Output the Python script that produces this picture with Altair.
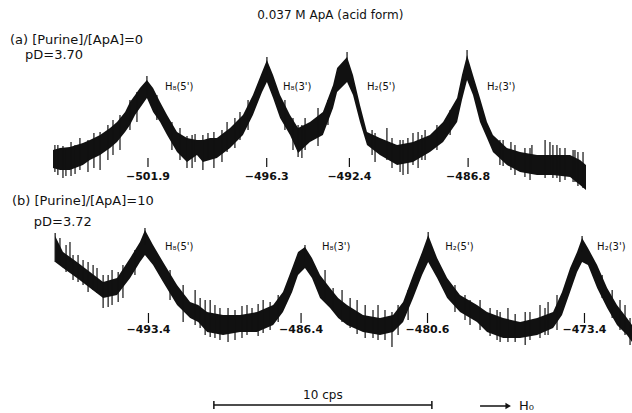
import altair as alt
import pandas as pd

# ---------------- spectrum (a): [Purine]/[ApA] = 0 ----------------
A_freq = [-506.38, -506.05, -505.58, -504.97, -504.64, -504.16, -503.69, -503.36, -502.98, -502.75,
          -502.51, -502.28, -501.95, -501.66, -501.33, -501.00, -500.53, -500.06, -499.59, -499.31,
          -498.98, -498.65, -498.03, -497.42, -496.95, -496.52, -496.29, -496.00, -495.67, -495.20,
          -494.82, -494.26, -493.65, -493.17, -492.98, -492.51, -492.23, -491.90, -491.57, -490.96,
          -490.15, -489.40, -488.60, -487.98, -487.32, -487.09, -486.85, -486.57, -486.24, -485.91,
          -485.63, -484.97, -484.35, -483.55, -482.80, -481.99, -481.52, -481.24]
A_upper = [40, 42, 43, 47, 50, 55, 62, 68, 78, 88,
           95, 102, 110, 102, 88, 75, 58, 52, 50, 50,
           52, 52, 62, 75, 95, 118, 130, 115, 95, 75,
           62, 68, 78, 105, 122, 133, 115, 85, 58, 52,
           45, 48, 55, 68, 92, 115, 135, 115, 92, 68,
           55, 42, 38, 35, 35, 35, 30, 25]
A_lower = [22, 20, 20, 25, 30, 35, 42, 48, 58, 65,
           75, 82, 92, 78, 68, 55, 38, 28, 35, 28,
           30, 32, 42, 55, 75, 98, 108, 92, 72, 55,
           37, 48, 55, 82, 98, 108, 95, 68, 45, 35,
           25, 28, 38, 48, 68, 90, 110, 95, 68, 52,
           38, 25, 18, 15, 15, 13, 5, 0]
A_spike_freq = [-506.15, -505.77, -505.34, -504.73, -504.16, -503.79, -502.75, -501.48, -500.39, -500.06,
                -499.68, -499.31, -498.41, -497.56, -494.82, -494.49, -493.88, -491.33, -490.63, -490.01,
                -489.64, -489.40, -488.83, -485.30, -484.59, -483.88, -483.17, -482.80, -482.47, -481.76,
                -481.38, -501.95, -496.29, -492.51, -486.85,
                -506.29, -505.91, -505.53, -505.11, -504.45, -503.55, -503.22, -502.42, -500.77, -499.82,
                -499.07, -498.79, -498.17, -497.80, -497.18, -495.44, -495.06, -494.64, -493.41, -491.19,
                -490.39, -489.87, -489.16, -488.98, -488.27, -487.65, -485.15, -484.78, -484.12, -483.79,
                -482.94, -482.61, -482.23, -481.85, -481.62]
A_spike_top = [45, 40, 45, 50, 58, 65, 90, 95, 62, 54,
               56, 55, 60, 78, 65, 72, 82, 60, 62, 50,
               52, 57, 60, 50, 45, 42, 50, 45, 42, 40,
               38, 114, 133, 138, 140,
               45, 44, 48, 52, 57, 70, 75, 98, 68, 55,
               57, 58, 68, 72, 90, 90, 72, 65, 90, 57,
               52, 50, 58, 55, 65, 80, 50, 48, 42, 45,
               48, 45, 42, 40, 38]
A_spike_bot = [15, 14, 16, 18, 20, 30, 60, 70, 30, 22,
               28, 20, 28, 50, 33, 40, 44, 35, 30, 18,
               16, 25, 30, 25, 15, 10, 12, 12, 8, 8,
               2, 95, 115, 120, 120,
               18, 12, 14, 20, 22, 35, 40, 68, 40, 22,
               30, 22, 38, 42, 60, 60, 40, 32, 65, 28,
               22, 15, 22, 30, 40, 55, 24, 20, 13, 18,
               15, 12, 10, 8, 4]
A_peaks = [-501.9, -496.3, -492.4, -486.8]
A_names = ["H\u2088(5')", "H\u2088(3')", "H\u2082(5')", "H\u2082(3')"]
A_name_freq = [-501.10, -495.53, -491.57, -485.91]

# ---------------- spectrum (b): [Purine]/[ApA] = 10 ----------------
B_freq = [-497.68, -497.32, -496.68, -496.08, -495.48, -494.84, -494.24, -493.79, -493.56, -493.19,
          -492.73, -492.09, -491.49, -491.12, -490.71, -489.98, -489.20, -488.42, -487.68, -487.23,
          -486.81, -486.54, -486.22, -485.90, -485.53, -485.07, -484.70, -484.29, -483.56, -482.78,
          -482.18, -481.72, -481.26, -480.85, -480.57, -480.16, -479.70, -479.11, -478.33, -477.87,
          -477.13, -476.35, -475.57, -474.84, -474.43, -474.06, -473.74, -473.51, -473.24, -472.82,
          -472.36, -471.91, -471.45, -471.22]
B_upper = [177, 161, 151, 141, 131, 135, 155, 171, 183, 168,
           151, 128, 111, 108, 101, 98, 98, 101, 108, 121,
           145, 161, 166, 155, 138, 125, 115, 108, 98, 95,
           98, 111, 138, 161, 178, 155, 135, 118, 108, 101,
           95, 91, 95, 101, 121, 145, 161, 175, 165, 148,
           125, 108, 95, 88]
B_lower = [151, 145, 135, 125, 115, 118, 135, 151, 158, 148,
           131, 108, 95, 91, 81, 78, 81, 81, 88, 101,
           121, 138, 145, 135, 115, 105, 95, 88, 81, 78,
           81, 91, 115, 138, 151, 135, 115, 101, 91, 81,
           75, 75, 78, 85, 98, 121, 141, 151, 148, 125,
           105, 88, 78, 71]
B_spike_freq = [-497.68, -497.00, -496.86, -496.40, -495.76, -495.48, -495.25, -494.79, -491.81, -491.26,
                -490.57, -490.12, -489.43, -488.88, -488.65, -487.82, -484.93, -484.15, -483.10, -482.55,
                -482.23, -478.65, -477.73, -477.27, -476.58, -475.90, -475.21, -471.77, -471.31,
                -493.56, -486.22, -480.57, -473.51,
                -497.46, -497.18, -496.63, -496.17, -495.94, -495.07, -494.57, -494.02, -492.41, -491.03,
                -490.80, -490.35, -489.75, -489.11, -488.37, -488.14, -487.45, -485.30, -484.52, -483.83,
                -483.46, -482.87, -481.95, -481.49, -479.34, -478.88, -478.19, -477.41, -476.91, -476.12,
                -475.44, -475.07, -474.66, -472.59, -472.13, -471.54]
B_spike_top = [180, 171, 158, 153, 145, 138, 138, 141, 128, 123,
               113, 105, 103, 108, 105, 111, 125, 115, 103, 103,
               101, 113, 105, 101, 99, 101, 105, 113, 95,
               185, 168, 181, 177,
               175, 168, 158, 151, 148, 143, 148, 163, 143, 115,
               113, 108, 105, 107, 109, 113, 118, 143, 123, 113,
               108, 108, 108, 123, 128, 118, 113, 103, 105, 101,
               108, 111, 118, 138, 123, 108]
B_spike_bot = [151, 151, 133, 128, 120, 105, 106, 111, 91, 88,
               76, 73, 73, 78, 81, 83, 103, 85, 75, 73,
               66, 88, 77, 71, 71, 73, 78, 83, 68,
               168, 151, 163, 161,
               148, 141, 131, 121, 123, 108, 115, 138, 113, 85,
               78, 75, 71, 75, 77, 80, 91, 113, 91, 79,
               75, 73, 78, 93, 101, 93, 83, 73, 71, 68,
               75, 78, 83, 115, 95, 78]
B_peaks = [-493.4, -486.4, -480.6, -473.4]
B_names = ["H\u2088(5')", "H\u2088(3')", "H\u2082(5')", "H\u2082(3')"]
B_name_freq = [-492.64, -485.44, -479.79, -472.82]

TITLE = "0.037 M ApA (acid form)"
A_caption = ["(a) [Purine]/[ApA]=0", "pD=3.70"]
B_caption = ["(b) [Purine]/[ApA]=10", "pD=3.72"]
SCALE_BAR = [-490.4, -480.4]   # 10 cps
SCALE_TEXT = "10 cps"

FONT = "DejaVu Sans"
INK = "#111111"


def fmt(v):
    return "\u2212" + f"{abs(v):.1f}"


def panel(freq, upper, lower, sp_f, sp_t, sp_b, peaks, names, name_f,
          xdom, ydom, h, tick_lo, tick_hi, tick_lab_y, name_y, extra_text, extras=None):
    xs = alt.Scale(domain=xdom, nice=False, zero=False)
    ys = alt.Scale(domain=ydom, nice=False, zero=False)

    def X(f):
        return alt.X(f, type="quantitative", scale=xs, axis=None)

    def Y(f):
        return alt.Y(f, type="quantitative", scale=ys, axis=None)

    trace = pd.DataFrame({"f": freq, "hi": upper, "lo": lower})
    spikes = pd.DataFrame({"f": sp_f, "t": sp_t, "b": sp_b})
    pk = pd.DataFrame({"f": peaks, "lab": [fmt(p) for p in peaks]})
    nm = pd.DataFrame({"f": name_f, "name": names})

    band = alt.Chart(trace).mark_area(color=INK, opacity=1).encode(
        x=X("f"), y=Y("lo"), y2="hi")
    sp = alt.Chart(spikes).mark_rule(color=INK, strokeWidth=1.2).encode(
        x=X("f"), y=Y("t"), y2="b")
    ticks = alt.Chart(pk).mark_rule(color=INK, strokeWidth=1.2).encode(
        x=X("f"), y=alt.Y(datum=tick_lo, scale=ys, axis=None), y2=alt.Y2(datum=tick_hi))
    tlab = alt.Chart(pk).mark_text(font=FONT, fontSize=11, fontWeight="bold", color=INK,
                                   baseline="middle", align="center").encode(
        x=X("f"), y=alt.Y(datum=tick_lab_y, scale=ys, axis=None), text="lab:N")
    nlab = alt.Chart(nm).mark_text(font=FONT, fontSize=10, color=INK,
                                   baseline="middle", align="left").encode(
        x=X("f"), y=alt.Y(datum=name_y, scale=ys, axis=None), text="name:N")
    ex = pd.DataFrame(extra_text)
    cap = alt.Chart(ex).mark_text(font=FONT, fontSize=13, color=INK, align="left",
                                  baseline="middle").encode(x=X("f"), y=Y("y"), text="t:N")
    layers = [band, sp, ticks, tlab, nlab, cap]
    if extras:
        layers.extend(extras(X, Y, xs, ys))
    return alt.layer(*layers).properties(width=632, height=h)


A_texts = [
    {"f": -508.41, "y": 150, "t": A_caption[0]},
    {"f": -507.70, "y": 135, "t": A_caption[1]},
]


def a_extras(X, Y, xs, ys):
    t = pd.DataFrame({"f": [-493.3], "y": [175], "t": [TITLE]})
    return [alt.Chart(t).mark_text(font=FONT, fontSize=12, color=INK, align="center",
                                   baseline="middle").encode(x=X("f"), y=Y("y"), text="t:N")]


A = panel(A_freq, A_upper, A_lower, A_spike_freq, A_spike_top, A_spike_bot,
          A_peaks, A_names, A_name_freq, [-508.88, -479.07], [0, 190], 190,
          23, 32, 13, 103, A_texts, a_extras)

B_texts = [
    {"f": -499.66, "y": 212, "t": B_caption[0]},
    {"f": -498.66, "y": 191, "t": B_caption[1]},
]


def b_extras(X, Y, xs, ys):
    bar = pd.DataFrame({"f": [SCALE_BAR[0]], "f2": [SCALE_BAR[1]], "y": [8]})
    caps = pd.DataFrame({"f": SCALE_BAR})
    lab = pd.DataFrame({"f": [(SCALE_BAR[0] + SCALE_BAR[1]) / 2], "y": [18], "t": [SCALE_TEXT]})
    arrow = pd.DataFrame({"f": [-478.19], "f2": [-477.0], "y": [7]})
    head = pd.DataFrame({"f": [-476.9], "y": [7]})
    h0 = pd.DataFrame({"f": [-476.4], "y": [7], "t": ["H\u2080"]})
    return [
        alt.Chart(bar).mark_rule(color=INK, strokeWidth=1.5).encode(
            x=X("f"), x2="f2", y=Y("y")),
        alt.Chart(caps).mark_rule(color=INK, strokeWidth=1.5).encode(
            x=X("f"), y=alt.Y(datum=4, scale=ys, axis=None), y2=alt.Y2(datum=12)),
        alt.Chart(lab).mark_text(font=FONT, fontSize=12, color=INK, align="center",
                                 baseline="middle").encode(x=X("f"), y=Y("y"), text="t:N"),
        alt.Chart(arrow).mark_rule(color=INK, strokeWidth=1.5).encode(
            x=X("f"), x2="f2", y=Y("y")),
        alt.Chart(head).mark_point(shape="triangle-right", filled=True, color=INK,
                                   size=40, opacity=1).encode(x=X("f"), y=Y("y")),
        alt.Chart(h0).mark_text(font=FONT, fontSize=13, color=INK, align="left",
                                baseline="middle").encode(x=X("f"), y=Y("y"), text="t:N"),
    ]


B = panel(B_freq, B_upper, B_lower, B_spike_freq, B_spike_top, B_spike_bot,
          B_peaks, B_names, B_name_freq, [-500.21, -471.22], [0, 223], 223,
          90, 100, 83, 166, B_texts, b_extras)

chart = alt.vconcat(A, B, spacing=0).properties(
    padding=0, background="white").configure_view(strokeWidth=0)

chart.save("out.html", embed_options={"renderer": "svg", "actions": False})
